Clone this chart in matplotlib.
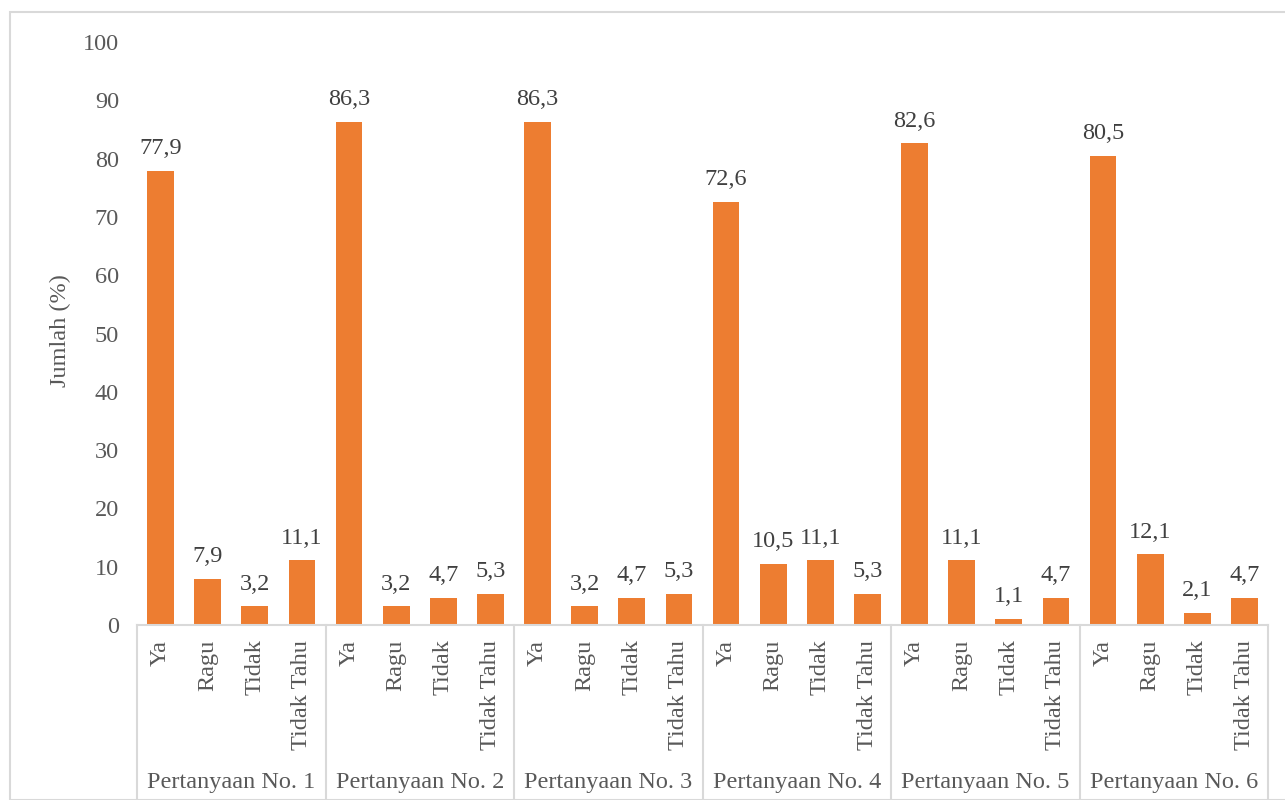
import matplotlib
matplotlib.use("Agg")
import matplotlib.pyplot as plt
from matplotlib.patches import Rectangle
import numpy as np

groups = ["Pertanyaan No. 1", "Pertanyaan No. 2", "Pertanyaan No. 3",
          "Pertanyaan No. 4", "Pertanyaan No. 5", "Pertanyaan No. 6"]
answers = ["Ya", "Ragu", "Tidak", "Tidak Tahu"]
values = [
    [77.9, 7.9, 3.2, 11.1],
    [86.3, 3.2, 4.7, 5.3],
    [86.3, 3.2, 4.7, 5.3],
    [72.6, 10.5, 11.1, 5.3],
    [82.6, 11.1, 1.1, 4.7],
    [80.5, 12.1, 2.1, 4.7],
]
yticks = [0, 10, 20, 30, 40, 50, 60, 70, 80, 90, 100]

plt.rcParams['font.family'] = ['Liberation Serif', 'DejaVu Serif']
txt = '#595959'
orange = '#ED7D31'
fs = 17.5

fig = plt.figure(figsize=(12.85, 8.0), dpi=100)
ax = fig.add_axes([137/1285, 1 - 625/800, (1268 - 137)/1285, (625 - 42)/800])

flat_vals = [v for g in values for v in g]
x = np.arange(len(flat_vals))
ax.bar(x, flat_vals, width=0.57, color=orange)
for xi, v in zip(x, flat_vals):
    ax.text(xi, v + 2.0, f"{v:.1f}".replace('.', ','), ha='center', va='bottom',
            fontsize=fs, color='#404040')

ax.set_xlim(-0.5, len(flat_vals) - 0.5)
ax.set_ylim(0, 100)
ax.set_yticks(yticks)
ax.set_yticklabels([str(t) for t in yticks], fontsize=fs, color=txt)
ax.tick_params(axis='y', length=0, pad=13)
ax.tick_params(axis='x', length=0)
ax.set_xticks([])
for s in ['top', 'right', 'left']:
    ax.spines[s].set_visible(False)
ax.spines['bottom'].set_color('#D9D9D9')
ax.spines['bottom'].set_linewidth(1.5)
ax.set_ylabel("Jumlah (%)", fontsize=fs, color=txt)
ax.yaxis.set_label_coords(-0.058, 0.505)

trans = ax.get_xaxis_transform()
# category labels
for xi, lab in zip(x, [a for _ in groups for a in answers]):
    ax.text(xi, -0.025, lab, rotation=90, ha='center', va='top', transform=trans,
            fontsize=fs, color=txt)
# group labels and separators
n = len(answers)
for gi, g in enumerate(groups):
    ax.text(gi * n + (n - 1) / 2, -0.27, g, ha='center', va='center',
            transform=trans, fontsize=fs, color=txt)
for b in range(len(groups) + 1):
    ax.plot([b * n - 0.5, b * n - 0.5], [0, -0.31], transform=trans, color='#D9D9D9',
            lw=1.5, clip_on=False)

# outer chart border
fig.patches.append(Rectangle((10/1285, 0), 1.0, 1 - 12/800, transform=fig.transFigure,
                             fill=False, edgecolor='#D9D9D9', lw=1.5))

fig.savefig("out.png", dpi=100)
